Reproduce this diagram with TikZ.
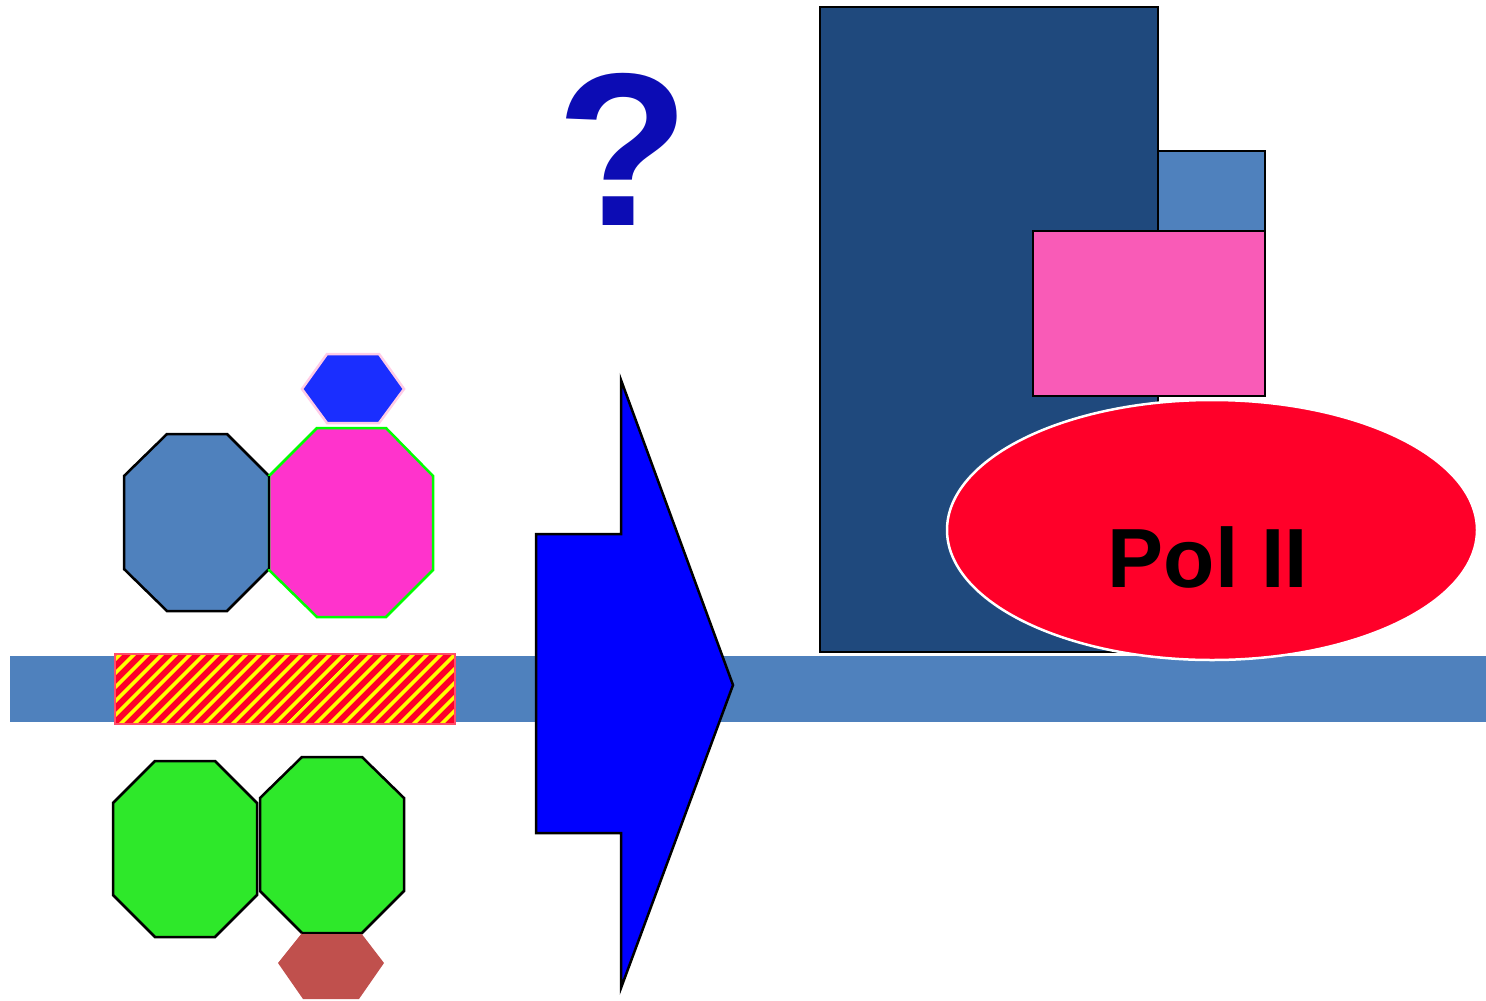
\documentclass[tikz,border=0pt]{standalone}
\usepackage{fontspec}
\setmainfont{Liberation Sans}
\usetikzlibrary{patterns.meta}
\definecolor{steel}{HTML}{4F81BD}
\definecolor{darkblue}{HTML}{1F497D}
\definecolor{pinkbox}{HTML}{F95BB7}
\definecolor{magentaoct}{HTML}{FF33CC}
\definecolor{hexblue}{HTML}{1A2EFF}
\definecolor{hexpink}{HTML}{FFCCE6}
\definecolor{greenoct}{HTML}{2EE82A}
\definecolor{brownhex}{HTML}{C0504D}
\definecolor{polred}{HTML}{FF0029}
\definecolor{qblue}{HTML}{0C0CB4}
\definecolor{arrowblue}{HTML}{0000FF}
\begin{document}
\begin{tikzpicture}[x=1pt,y=-1pt,
  outl/.style={draw=black,line width=2.5pt,line join=miter},
  bigtext/.style={inner sep=0pt,anchor=base}]
\useasboundingbox (0,0) rectangle (1486,1001);
% DNA bar
\fill[steel] (10,656) rectangle (1486,722);
% hatched element
\fill[polred] (115,654) rectangle (455,724);
\fill[pattern={Lines[angle=45,distance=10.5pt,line width=4pt]},pattern color=yellow] (115,654) rectangle (455,724);
\draw[polred!70!white,line width=1.2pt] (115,654) rectangle (455,724);
% upper octagons
\filldraw[fill=steel,outl] (167,434) -- (227,434) -- (269,476) -- (269,569) -- (227,611) -- (167,611) -- (124,569) -- (124,476) -- cycle;
\filldraw[fill=magentaoct,draw=green,line width=2.5pt] (317,428) -- (386,428) -- (433,476) -- (433,570) -- (386,617) -- (317,617) -- (269,570) -- (269,476) -- cycle;
\draw[black,line width=2.5pt] (269,476) -- (269,569);
% blue hexagon
\filldraw[fill=hexblue,draw=hexpink,line width=2.5pt] (327,354) -- (379,354) -- (404,389) -- (379,423) -- (327,423) -- (302,389) -- cycle;
% lower octagons
\filldraw[fill=greenoct,outl] (155,761) -- (215,761) -- (257,803) -- (257,895) -- (215,937) -- (155,937) -- (113,895) -- (113,803) -- cycle;
\filldraw[fill=greenoct,outl] (302,757) -- (362,757) -- (404,798) -- (404,891) -- (362,933) -- (302,933) -- (260,891) -- (260,798) -- cycle;
% brown hexagon
\fill[brownhex] (302,933) -- (361,933) -- (384,963) -- (359,999) -- (303,999) -- (278,963) -- cycle;
\draw[black,line width=2.5pt] (302,933) -- (362,933);
% big arrow
\filldraw[fill=arrowblue,outl] (536,534) -- (621,534) -- (621,380) -- (733,685) -- (621,988) -- (621,833) -- (536,833) -- cycle;
% question mark
\node[bigtext,text=qblue,font=\fontsize{218}{218}\selectfont\bfseries] (q) at (623,225) {?};
% transcription complex
\filldraw[fill=darkblue,outl] (820,7) rectangle (1158,652);
\filldraw[fill=steel,outl] (1158,151) rectangle (1265,320);
\filldraw[fill=pinkbox,outl] (1033,231) rectangle (1265,396);
\filldraw[fill=polred,draw=white,line width=2.5pt] (1212,530) ellipse [x radius=265,y radius=130];
\node[bigtext,text=black,font=\fontsize{84}{84}\selectfont\bfseries] (pol) at (1208,587) {Pol II};
\end{tikzpicture}
\end{document}
